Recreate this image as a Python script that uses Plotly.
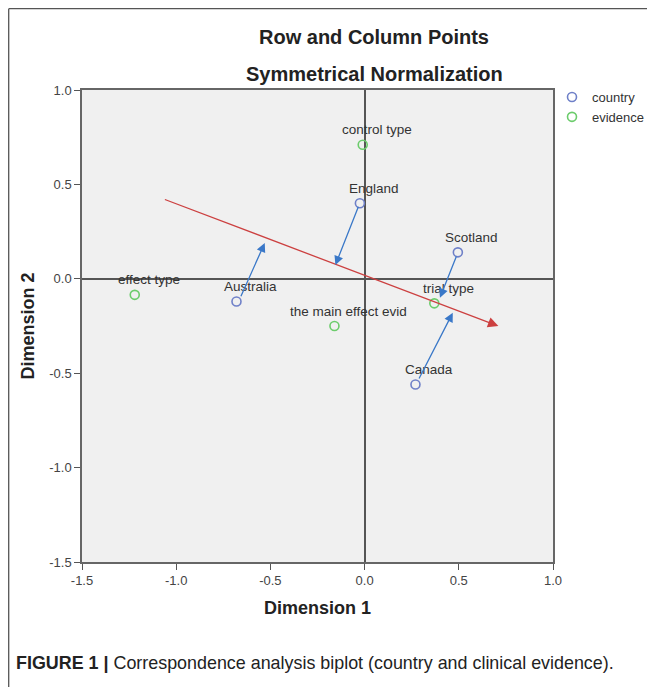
import plotly.graph_objects as go

# ---- data ----
country_names = ["England", "Scotland", "Australia", "Canada"]
country_x = [-0.025, 0.495, -0.68, 0.27]
country_y = [0.40, 0.14, -0.12, -0.56]

evidence_names = ["control type", "trial type", "the main effect evid", "effect type"]
evidence_x = [-0.01, 0.37, -0.16, -1.22]
evidence_y = [0.71, -0.13, -0.25, -0.085]

# red direction arrow (tail -> tip)
red_tail = [-1.068, 0.423]
red_tip = [0.71, -0.25]

# blue projection arrows (tail -> tip)
blue_tail_x = [-0.66, -0.03, 0.49, 0.285]
blue_tail_y = [-0.10, 0.39, 0.126, -0.536]
blue_tip_x = [-0.53, -0.155, 0.40, 0.468]
blue_tip_y = [0.19, 0.073, -0.10, -0.18]

x_ticks = [-1.5, -1.0, -0.5, 0.0, 0.5, 1.0]
y_ticks = [-1.5, -1.0, -0.5, 0.0, 0.5, 1.0]

BLUE = "#6f80c8"
GREEN = "#6ccc6c"
FONT = "Liberation Sans"

# figure pixel geometry (page has an 8px body margin)
W, H = 647, 679
L, R, T, B = 74, 102, 82, 125
PW = W - L - R
PH = H - T - B


def px(xp):
    return (xp - L) / PW


def py(yp):
    return (H - B - yp) / PH


fig = go.Figure()
fig.add_trace(go.Scatter(
    x=country_x, y=country_y, mode="markers", name="country",
    marker=dict(symbol="circle-open", size=9, color=BLUE, line=dict(width=1.6, color=BLUE)),
))
fig.add_trace(go.Scatter(
    x=evidence_x, y=evidence_y, mode="markers", name="evidence",
    marker=dict(symbol="circle-open", size=9, color=GREEN, line=dict(width=1.6, color=GREEN)),
))

ann = []
# point labels
for nm, xx, yy in list(zip(country_names, country_x, country_y)) + list(zip(evidence_names, evidence_x, evidence_y)):
    ann.append(dict(x=xx, y=yy, xref="x", yref="y", text=nm, showarrow=False,
                    xshift=14, yshift=15, font=dict(family=FONT, size=13.5, color="#333333")))
# red arrow
ann.append(dict(x=red_tip[0], y=red_tip[1], ax=red_tail[0], ay=red_tail[1],
                xref="x", yref="y", axref="x", ayref="y", text="", showarrow=True,
                arrowhead=2, arrowsize=1.6, arrowwidth=1.3, arrowcolor="#cc4040", standoff=0))
# blue arrows
for tx, ty, hx, hy in zip(blue_tail_x, blue_tail_y, blue_tip_x, blue_tip_y):
    ann.append(dict(x=hx, y=hy, ax=tx, ay=ty,
                    xref="x", yref="y", axref="x", ayref="y", text="", showarrow=True,
                    arrowhead=2, arrowsize=1.4, arrowwidth=1.3, arrowcolor="#3a78c8", standoff=0))
# titles
ann.append(dict(x=px(366), y=py(29), xref="paper", yref="paper", showarrow=False, yanchor="middle",
                text="<b>Row and Column Points</b>", font=dict(family=FONT, size=20, color="#222222")))
ann.append(dict(x=px(366), y=py(66), xref="paper", yref="paper", showarrow=False, yanchor="middle",
                text="<b>Symmetrical Normalization</b>", font=dict(family=FONT, size=20, color="#222222")))
# caption
ann.append(dict(x=px(6), y=py(655), xref="paper", yref="paper", showarrow=False,
                xanchor="left", yanchor="middle",
                text="<b>FIGURE 1 |</b> Correspondence analysis biplot (country and clinical evidence).",
                font=dict(family=FONT, size=17.9, color="#222222")))

shapes = [
    dict(type="line", xref="paper", yref="paper", x0=px(0.7), x1=px(0.7),
         y0=py(H + 20), y1=py(0.7), line=dict(color="#555555", width=1.3)),
    dict(type="line", xref="paper", yref="paper", x0=px(0.7), x1=px(W + 20),
         y0=py(0.7), y1=py(0.7), line=dict(color="#555555", width=1.3)),
]

axis_common = dict(
    showgrid=False, zeroline=True, zerolinecolor="#555555", zerolinewidth=1.5,
    showline=True, linecolor="#666666", linewidth=1.5, mirror=True,
    ticks="outside", ticklen=6, tickwidth=1.3, tickcolor="#555555",
    tickfont=dict(family=FONT, size=13, color="#444444"),
    automargin=False,
)

fig.update_layout(
    width=W, height=H,
    margin=dict(l=L, r=R, t=T, b=B, autoexpand=False),
    paper_bgcolor="white", plot_bgcolor="#f0f0f0",
    xaxis=dict(range=[-1.5, 1.0], tickvals=x_ticks, ticktext=[f"{v:.1f}" for v in x_ticks],
               title=dict(text="<b>Dimension 1</b>", font=dict(family=FONT, size=18, color="#222222"), standoff=14),
               **axis_common),
    yaxis=dict(range=[-1.5, 1.0], tickvals=y_ticks, ticktext=[f"{v:.1f}" for v in y_ticks],
               title=dict(text="<b>Dimension 2</b>", font=dict(family=FONT, size=18, color="#222222"), standoff=10),
               **axis_common),
    legend=dict(xref="container", yref="container", x=544 / W, y=1 - 74 / H,
                xanchor="left", yanchor="top", bgcolor="rgba(0,0,0,0)",
                font=dict(family=FONT, size=13, color="#333333"), itemwidth=30, tracegroupgap=0),
    annotations=ann, shapes=shapes, showlegend=True,
)

fig.write_html("out.html")
